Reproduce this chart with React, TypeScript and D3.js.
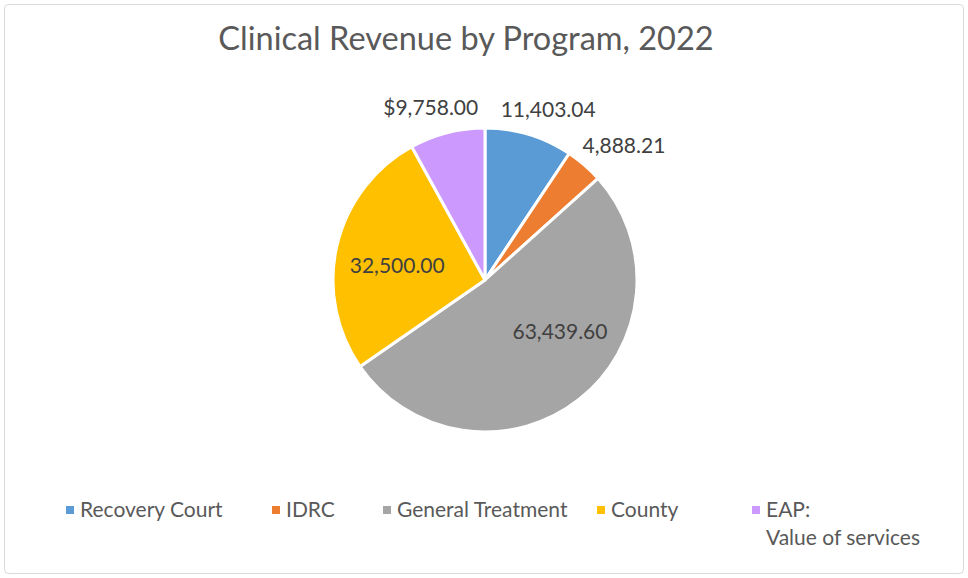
import React from "react";
import * as d3 from "d3";

const categories = ["Recovery Court", "IDRC", "General Treatment", "County", "EAP:\nValue of services"];
const values = [11403.04, 4888.21, 63439.6, 32500.0, 9758.0];
const valueLabels = ["11,403.04", "4,888.21", "63,439.60", "32,500.00", "$9,758.00"];
const colors = ["#5B9BD5", "#ED7D31", "#A5A5A5", "#FFC000", "#CC99FF"];
const labelInside = [false, false, true, true, false];
const title = "Clinical Revenue by Program, 2022";

// layout (not data)
const labelAngleShift = [0, 0, -17, -4, 0];
const labelRadiusFrac = [1, 1, 0.6, 0.585, 1];
const W = 968;
const H = 578;
const cx = 485;
const cy = 280;
const R = 152;
const FONT = "Lato, 'Open Sans', sans-serif";
const legendX = [66, 272, 383, 597, 752];
const legendY = 510;

export default function App() {
  const pie = d3
    .pie<number>()
    .sort(null)
    .value((d) => d)
    .startAngle(0)
    .endAngle(2 * Math.PI);
  const arcs = pie(values);
  const arc = d3.arc<d3.PieArcDatum<number>>().innerRadius(0).outerRadius(R);
  const labelFont = 21;

  return (
    <svg width={W} height={H} style={{ position: "absolute", left: 0, top: 0 }}>
      <rect x={0} y={0} width={W} height={H} fill="#fff" />
      <rect x={4.5} y={4.5} width={W - 9} height={H - 9} rx={4} fill="#fff" stroke="#d9d9d9" strokeWidth={1} />
      <text x={466} y={50} textAnchor="middle" fontFamily={FONT} fontSize={32.5} fill="#595959">
        {title}
      </text>
      <g transform={`translate(${cx},${cy})`}>
        {arcs.map((a, i) => (
          <path key={i} d={arc(a) || ""} fill={colors[i]} stroke="#fff" strokeWidth={3} strokeLinejoin="round" />
        ))}
        {arcs.map((a, i) => {
          const mid = (a.startAngle + a.endAngle) / 2 + (labelAngleShift[i] * Math.PI) / 180;
          let x: number, y: number;
          if (labelInside[i]) {
            const r = R * labelRadiusFrac[i];
            x = Math.sin(mid) * r;
            y = -Math.cos(mid) * r;
          } else {
            const r = R + 14;
            const w = valueLabels[i].length * 11.6;
            const h = 24;
            x = Math.sin(mid) * r + (w / 2) * Math.sin(mid);
            y = -Math.cos(mid) * r - (h / 2) * Math.cos(mid);
          }
          return (
            <text
              key={"l" + i}
              x={x}
              y={y}
              dy="0.35em"
              textAnchor="middle"
              fontFamily={FONT}
              fontSize={labelFont}
              fill="#404040"
            >
              {valueLabels[i]}
            </text>
          );
        })}
      </g>
      <g>
        {categories.map((c, i) => {
          const lines = c.split("\n");
          return (
            <g key={"lg" + i} transform={`translate(${legendX[i]},${legendY})`}>
              <rect x={0} y={-4} width={8} height={8} fill={colors[i]} />
              <text x={14} y={0} fontFamily={FONT} fontSize={21} fill="#595959">
                {lines.map((ln, j) => (
                  <tspan key={j} x={14} dy={j === 0 ? "0.35em" : "1.3em"}>
                    {ln}
                  </tspan>
                ))}
              </text>
            </g>
          );
        })}
      </g>
    </svg>
  );
}
